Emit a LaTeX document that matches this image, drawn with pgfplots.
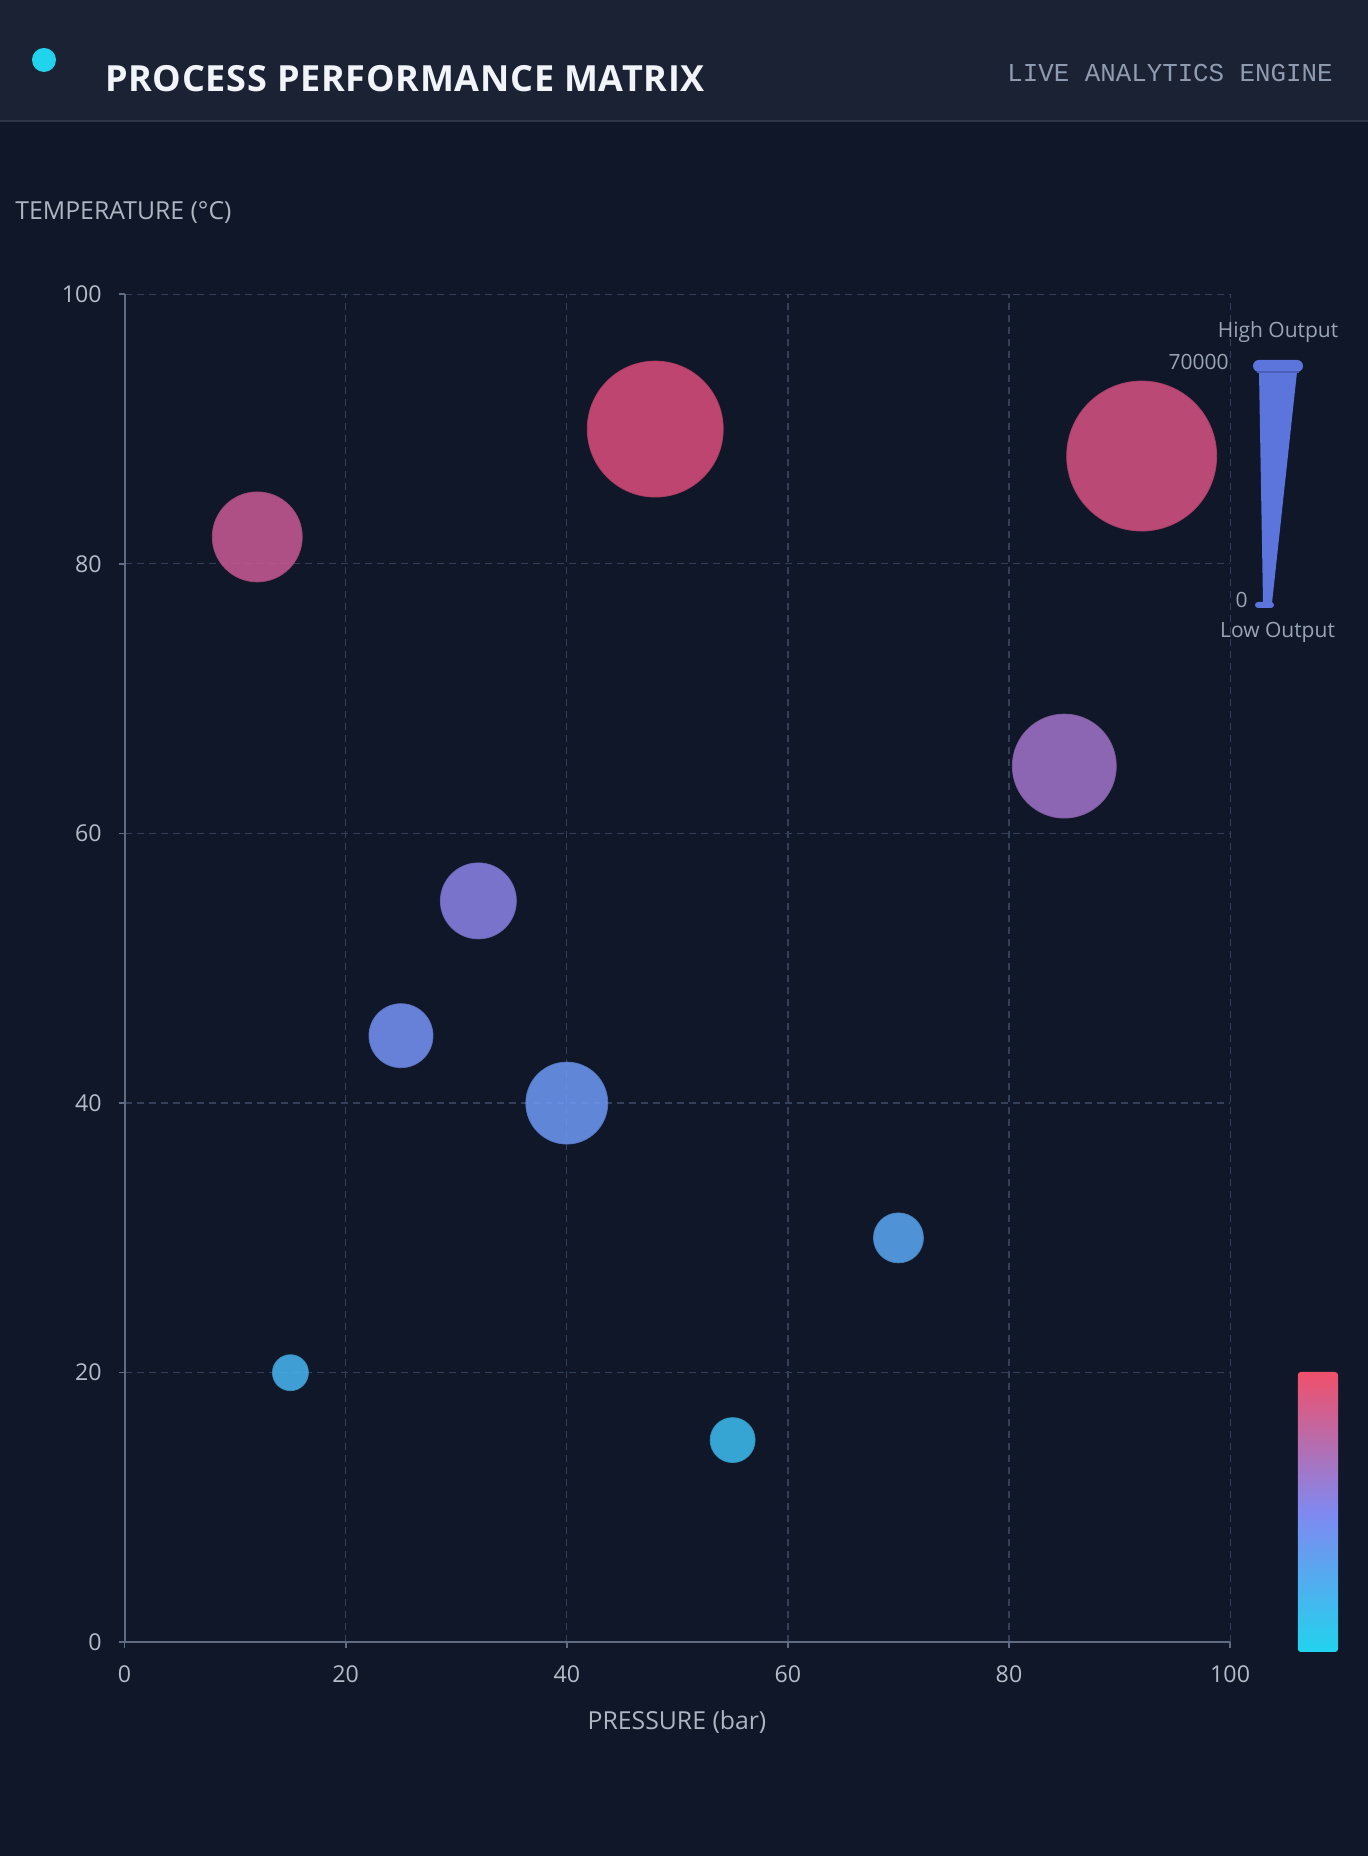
\documentclass[border=0pt]{standalone}
\usepackage{fontspec}
\setmainfont{Open Sans}
\newfontfamily\monofont{Liberation Mono}
\usepackage{pgfplots}
\usepackage{pgfplotstable}
\pgfplotsset{compat=1.18}

\definecolor{bg}{HTML}{0F1729}
\definecolor{headbg}{HTML}{1B2234}
\definecolor{headline}{HTML}{2D3546}
\definecolor{dotcyan}{HTML}{22D3EE}
\definecolor{titlecol}{HTML}{F1F5F9}
\definecolor{subcol}{HTML}{8F9BB0}
\definecolor{labelcol}{HTML}{AEB6C2}
\definecolor{tickcol}{HTML}{B4BCC8}
\definecolor{axiscol}{HTML}{5F6B80}
\definecolor{gridcol}{HTML}{34405A}
\definecolor{legcol}{HTML}{9AA4B4}
\definecolor{conecol}{HTML}{5B75DC}
\definecolor{capline}{HTML}{4A5FB8}
\definecolor{cbtop}{HTML}{F0506A}
\definecolor{cbmid}{HTML}{8088F0}
\definecolor{cbbot}{HTML}{22D3EE}

% pressure, temperature, output (thousands)
\pgfplotstableread{
x  y  kout
12 82 35
48 90 58
92 88 65
85 65 42
32 55 28
25 45 22
40 40 31
70 30 15
15 20 8
55 15 12.5
}\datatable

\begin{document}
\begin{tikzpicture}
\useasboundingbox (0,0) rectangle (684pt,928pt);
\fill[bg] (0,0) rectangle (684pt,928pt);
% header
\fill[headbg] (0,867.5pt) rectangle (684pt,928pt);
\draw[headline, line width=1pt] (0,867.5pt) -- (684pt,867.5pt);
\fill[dotcyan] (22pt,898pt) circle (6pt);
\node[anchor=base west, inner sep=0pt, text=titlecol, font=\fontsize{18}{18}\selectfont\bfseries\addfontfeatures{LetterSpace=2}]
  at (52.3pt,882.2pt) {PROCESS PERFORMANCE MATRIX};
\node[anchor=base east, inner sep=0pt, text=subcol, font=\monofont\fontsize{12.9}{12.9}\selectfont]
  at (666.5pt,887pt) {LIVE ANALYTICS ENGINE};

% axis titles
\node[anchor=base west, inner sep=0pt, text=labelcol, font=\fontsize{12.4}{12.4}\selectfont]
  at (7.5pt,818pt) {TEMPERATURE (°C)};
\node[anchor=base, inner sep=0pt, text=labelcol, font=\fontsize{12.4}{12.4}\selectfont]
  at (338.5pt,63pt) {PRESSURE (bar)};

\begin{axis}[
  at={(62.3pt,106.85pt)}, anchor=south west,
  scale only axis, width=552.75pt, height=674pt,
  xmin=0, xmax=100, ymin=0, ymax=100,
  xtick={0,20,...,100}, ytick={0,20,...,100},
  axis lines=left, axis line style={-, axiscol, line width=1pt},
  tick align=outside, major tick length=3pt,
  tick style={axiscol, line width=0.8pt},
  grid=major,
  major grid style={gridcol, line width=0.6pt, dash pattern=on 3.5pt off 2.5pt},
  /pgf/number format/assume math mode=true,
  ticklabel style={text=tickcol, font=\fontsize{11.6}{11.6}\selectfont, inner sep=0pt},
  xticklabel style={anchor=base, yshift=-16.9pt},
  yticklabel style={anchor=east, xshift=-8.3pt},
  colormap={bub}{rgb255(0)=(34,211,238); rgb255(1)=(129,140,248); rgb255(2)=(244,63,94)},
  point meta min=0, point meta max=100,
  clip=false,
]
\addplot[scatter, only marks, mark=*,
  point meta=\thisrow{y},
  visualization depends on={\thisrow{kout} \as \outv},
  scatter/@pre marker code/.append style={/tikz/mark size={5+0.5*\outv}},
  fill opacity=0.85, draw opacity=0.85]
  table[x=x, y=y] {\datatable};
\end{axis}

% size legend
\node[anchor=base, inner sep=0pt, text=legcol, font=\fontsize{10.5}{10.5}\selectfont]
  at (639pt,759pt) {High Output};
\node[anchor=base east, inner sep=0pt, text=legcol, font=\fontsize{10.5}{10.5}\selectfont]
  at (614.5pt,743pt) {70000};
\fill[conecol] (629.5pt,742pt) -- (648.5pt,742pt) -- (636pt,626.5pt) -- (631.5pt,626.5pt) -- cycle;
\fill[conecol, rounded corners=3pt] (626.5pt,742pt) rectangle (651.5pt,748pt);
\draw[capline, line width=0.8pt] (628.5pt,742pt) -- (649.5pt,742pt);
\fill[conecol, rounded corners=1.5pt] (627.5pt,624pt) rectangle (637pt,627pt);
\node[anchor=base east, inner sep=0pt, text=legcol, font=\fontsize{10.5}{10.5}\selectfont]
  at (624pt,624pt) {0};
\node[anchor=base, inner sep=0pt, text=legcol, font=\fontsize{10.5}{10.5}\selectfont]
  at (638.75pt,609pt) {Low Output};

% colour bar
\shade[top color=cbtop, bottom color=cbbot, middle color=cbmid, rounded corners=1.5pt]
  (648.9pt,102pt) rectangle (669pt,242pt);
\end{tikzpicture}
\end{document}
